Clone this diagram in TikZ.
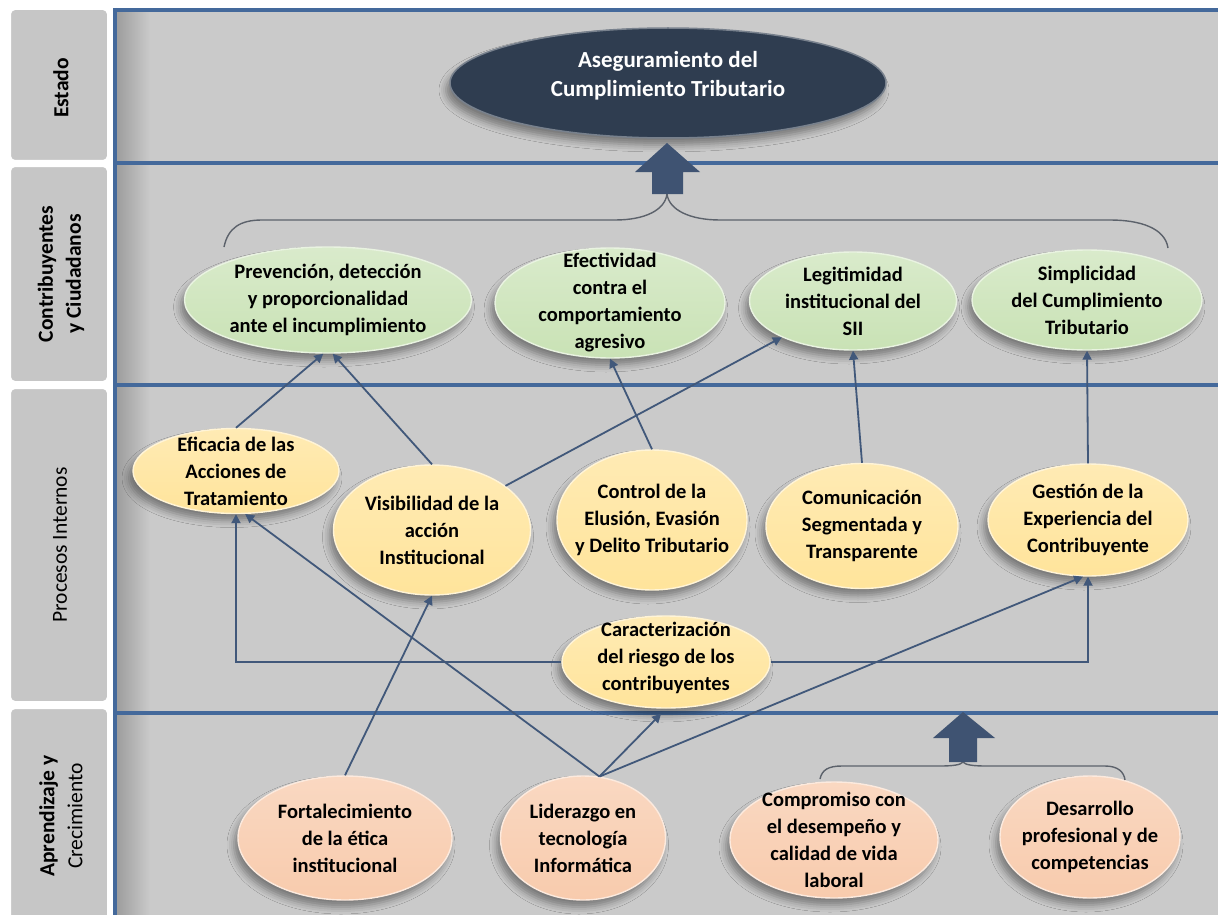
\documentclass[tikz,border=0pt]{standalone}
\usepackage{fontspec}
\setmainfont{Carlito}
\usetikzlibrary{shapes.geometric,arrows.meta,shadows.blur,calc}

\definecolor{panel}{HTML}{CACACA}
\definecolor{tabgray}{HTML}{C6C6C6}
\definecolor{rule}{HTML}{44699B}
\definecolor{linkcol}{HTML}{41587A}
\definecolor{headfill}{HTML}{2F3D50}
\definecolor{goalfill}{HTML}{C9E2B5}
\definecolor{procfill}{HTML}{FFE49B}
\definecolor{learnfill}{HTML}{F8CBAD}
\definecolor{blockarrow}{HTML}{3F5372}
\definecolor{bracecol}{HTML}{5C626B}

\begin{document}
\begin{tikzpicture}[x=1pt,y=-1pt,
  oval/.style={ellipse, inner sep=0pt,
    blur shadow={shadow xshift=-4pt, shadow yshift=-7pt,
                 shadow blur radius=7pt, shadow opacity=40}},
  headoval/.style={oval, fill=headfill, draw=white!35!headfill, line width=1.5pt},
  goal/.style={oval, top color=white!30!goalfill, bottom color=goalfill,
               draw=white!60!goalfill, line width=1.4pt},
  proc/.style={oval, top color=white!25!procfill, bottom color=procfill,
               draw=white!60!procfill, line width=1.4pt},
  learn/.style={oval, top color=white!25!learnfill, bottom color=learnfill,
                draw=white!60!learnfill, line width=1.4pt},
  txt/.style={align=center, inner sep=0pt, text=black,
              font=\fontsize{20.5}{27}\selectfont\bfseries},
  headtxt/.style={align=center, inner sep=0pt, text=white,
                  font=\fontsize{23}{29}\selectfont\bfseries},
  tablabel/.style={align=center, inner sep=0pt, text=black, rotate=90,
                   font=\fontsize{21.5}{28}\selectfont\bfseries},
  flow/.style={draw=linkcol, line width=1.8pt,
               -{Triangle[width=9pt,length=9pt]}},
  bracket/.style={draw=bracecol, line width=1.4pt},
  tabbox/.style={fill=tabgray, draw=white, line width=2pt, rounded corners=5pt}
]

% page
\useasboundingbox (0,0) rectangle (1218,915);
\fill[white] (0,0) rectangle (1218,915);

% perspective tabs on the left
\path[tabbox] (10,9) rectangle (108,161);
\path[tabbox] (10,166) rectangle (108,382);
\path[tabbox] (10,388) rectangle (108,702);
\path[tabbox] (10,708) rectangle (108,930);

\node[tablabel] (t-estado) at (61,88) {Estado};
\node[tablabel] (t-contrib) at (61,274) {Contribuyentes\\y Ciudadanos};
\node[tablabel, font=\fontsize{21.5}{28}\selectfont] (t-proc) at (60,545) {Procesos Internos};
\node[tablabel] (t-apr) at (61,816) {Aprendizaje y\\{\mdseries Crecimiento}};

% main panel with a soft shadow along its left edge
\fill[panel] (115,10) rectangle (1218,915);
\shade[left color=black!22!panel, right color=panel] (117,12) rectangle (150,915);

% band rules
\draw[rule, line width=3.5pt] (113,10) -- (1218,10);
\draw[rule, line width=4pt] (115,163) -- (1218,163);
\draw[rule, line width=4pt] (115,385) -- (1218,385);
\draw[rule, line width=4pt] (115,713) -- (1218,713);
\draw[rule, line width=4pt] (115,8) -- (115,915);

% Estado
\node[headoval, minimum width=436pt, minimum height=110pt] (head) at (668,83) {};
\node[headtxt] (head-t) at ($(head)+(0,-7)$) {Aseguramiento del\\Cumplimiento Tributario};

% Contribuyentes y Ciudadanos
\node[goal, minimum width=287pt, minimum height=106pt] (prev) at (328,300) {};
\node[txt] (prev-t) at (prev) {Prevención, detección\\y proporcionalidad\\ante el incumplimiento};
\node[goal, minimum width=230pt, minimum height=110pt] (efec) at (610,303) {};
\node[txt] (efec-t) at (efec) {Efectividad\\contra el\\comportamiento\\agresivo};
\node[goal, minimum width=207pt, minimum height=98pt] (legi) at (853,301) {};
\node[txt] (legi-t) at (legi) {Legitimidad\\institucional del\\SII};
\node[goal, minimum width=230pt, minimum height=100pt] (simp) at (1087,300) {};
\node[txt] (simp-t) at (simp) {Simplicidad\\del Cumplimiento\\Tributario};

% Procesos Internos
\node[proc, minimum width=206pt, minimum height=85pt] (efic) at (236,471) {};
\node[txt] (efic-t) at (efic) {Eficacia de las\\Acciones de\\Tratamiento};
\node[proc, minimum width=197pt, minimum height=130pt] (visi) at (432,530) {};
\node[txt] (visi-t) at (visi) {Visibilidad de la\\acción\\Institucional};
\node[proc, minimum width=190pt, minimum height=140pt] (ctrl) at (652,520) {};
\node[txt] (ctrl-t) at (ctrl) {Control de la\\Elusión, Evasión\\y Delito Tributario};
\node[proc, minimum width=192pt, minimum height=125pt] (comu) at (862,526) {};
\node[txt] (comu-t) at (comu) {Comunicación\\Segmentada y\\Transparente};
\node[proc, minimum width=200pt, minimum height=112pt] (gest) at (1088,520) {};
\node[txt] (gest-t) at (gest) {Gestión de la\\Experiencia del\\Contribuyente};
\node[proc, minimum width=208pt, minimum height=92pt] (cara) at (666,662) {};
\node[txt] (cara-t) at ($(cara)+(0,-4)$) {Caracterización\\del riesgo de los\\contribuyentes};

% Aprendizaje y Crecimiento
\node[learn, minimum width=214pt, minimum height=124pt] (fort) at (345,838) {};
\node[txt] (fort-t) at (fort) {Fortalecimiento\\de la ética\\institucional};
\node[learn, minimum width=165pt, minimum height=124pt] (lide) at (583,838) {};
\node[txt] (lide-t) at (lide) {Liderazgo en\\tecnología\\Informática};
\node[learn, minimum width=208pt, minimum height=116pt] (comp) at (834,840) {};
\node[txt] (comp-t) at (comp) {Compromiso con\\el desempeño y\\calidad de vida\\laboral};
\node[learn, minimum width=180pt, minimum height=122pt] (desa) at (1090,837) {};
\node[txt] (desa-t) at (desa) {Desarrollo\\profesional y de\\competencias};

% cause-effect links
\coordinate (lide-top) at (lide.75);
\draw[flow] (efic.north) -- (prev.265);
\draw[flow] (visi.north) -- (prev.275);
\draw[flow] (visi.31) -- (legi.207);
\draw[flow] (ctrl.north) -- (efec.south);
\draw[flow] (comu.north) -- (legi.south);
\draw[flow] (gest.north) -- (simp.south);
\draw[flow] (cara.west) -| (efic.south);
\draw[flow] (cara.east) -| (gest.south);
\draw[flow] (lide-top) -- (efic.282);
\draw[flow, shorten >=7pt] (lide-top) -- (cara.south);
\draw[flow] (lide-top) -- (gest.265);
\draw[flow] (fort.north) -- (visi.south);

% grouping brackets and block arrows
\draw[bracket] (224,247) .. controls (228,228) and (240,220) .. (262,220)
  -- (615,220) .. controls (645,220) and (665,210) .. (667,194);
\draw[bracket] (667,194) .. controls (669,210) and (690,220) .. (720,220)
  -- (1110,220) .. controls (1140,220) and (1165,228) .. (1168,248);
\fill[blockarrow] (667,143) -- (700,172) -- (683,172) -- (683,194)
  -- (652,194) -- (652,172) -- (635,172) -- cycle;

\draw[bracket] (820,779) .. controls (822,770) and (828,766) .. (842,766)
  -- (940,766) .. controls (952,766) and (961,765) .. (963,762);
\draw[bracket] (963,762) .. controls (965,765) and (974,766) .. (986,766)
  -- (1105,766) .. controls (1118,766) and (1124,772) .. (1125,780);
\fill[blockarrow] (963,712) -- (995,738) -- (977,738) -- (977,762)
  -- (949,762) -- (949,738) -- (933,738) -- cycle;
\end{tikzpicture}
\end{document}
